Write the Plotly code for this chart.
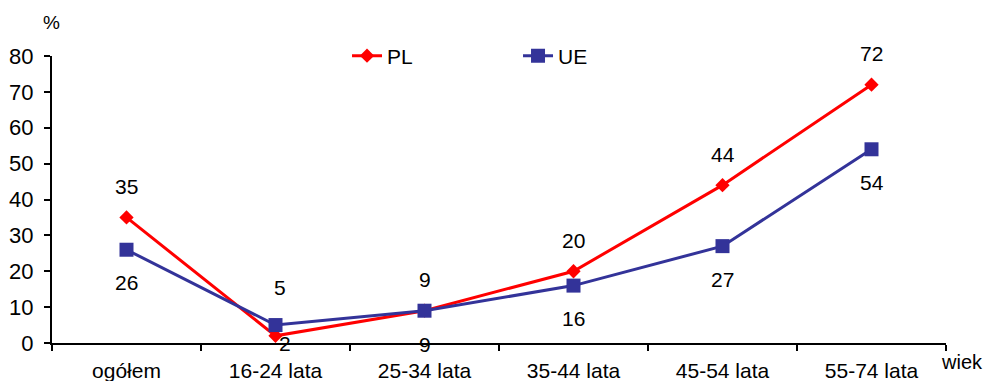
import plotly.graph_objects as go

# Age groups and shares (%) for Poland and the EU
categories = ["ogółem", "16-24 lata", "25-34 lata", "35-44 lata", "45-54 lata", "55-74 lata"]
pl_values = [35, 2, 9, 20, 44, 72]
ue_values = [26, 5, 9, 16, 27, 54]
y_ticks = [0, 10, 20, 30, 40, 50, 60, 70, 80]

# Pixel offsets of the value labels relative to their points
pl_label_dy = [31, -8, 31, 31, 31, 31]
pl_label_dx = [0, 9, 0, 0, 0, 0]
ue_label_dy = [-33, 38, -34, -33, -33, -33]
ue_label_dx = [0, 4, 0, 0, 0, 0]

RED = "#FF0000"
BLUE = "#333399"
FONT = "Liberation Sans, Arial, sans-serif"
LABEL_FONT = dict(size=21, color="black", family=FONT)

fig = go.Figure()
fig.add_trace(go.Scatter(
    x=categories, y=pl_values, name="PL", mode="lines+markers",
    line=dict(color=RED, width=3),
    marker=dict(symbol="diamond", size=11, color=RED),
))
fig.add_trace(go.Scatter(
    x=categories, y=ue_values, name="UE", mode="lines+markers",
    line=dict(color=BLUE, width=3),
    marker=dict(symbol="square", size=14, color=BLUE),
))

annotations = []
for cat, v, dy, dx in zip(categories, pl_values, pl_label_dy, pl_label_dx):
    annotations.append(dict(x=cat, y=v, text=str(v), showarrow=False,
                            yshift=dy, xshift=dx, font=LABEL_FONT))
for cat, v, dy, dx in zip(categories, ue_values, ue_label_dy, ue_label_dx):
    annotations.append(dict(x=cat, y=v, text=str(v), showarrow=False,
                            yshift=dy, xshift=dx, font=LABEL_FONT))

# Axis titles placed at the axis ends
annotations.append(dict(xref="paper", yref="paper", x=0, y=1, xanchor="center", yanchor="middle",
                        xshift=-1, yshift=34, text="%", showarrow=False,
                        font=dict(size=19, color="black", family=FONT)))
annotations.append(dict(xref="paper", yref="paper", x=1, y=0, xanchor="left", yanchor="middle",
                        xshift=-7, yshift=-19, text="wiek", showarrow=False,
                        font=dict(size=20, color="black", family=FONT)))

fig.update_layout(
    width=987, height=381,
    margin=dict(l=52, r=41, t=56, b=38, autoexpand=False),
    paper_bgcolor="white", plot_bgcolor="white",
    font=dict(family=FONT, color="black"),
    showlegend=True,
    legend=dict(orientation="h", x=0.33, y=1.0, xanchor="left", yanchor="middle",
                font=dict(size=21, color="black", family=FONT),
                bgcolor="rgba(0,0,0,0)", entrywidth=126, entrywidthmode="pixels"),
    annotations=annotations,
)
fig.update_xaxes(
    type="category", range=[-0.5, 5.5], automargin=False,
    showline=True, linecolor="black", linewidth=2,
    ticks="outside", tickson="boundaries", ticklen=6, tickwidth=2, tickcolor="black",
    ticklabelstandoff=8,
    showgrid=False, zeroline=False,
    tickfont=dict(size=21, color="black", family=FONT),
)
fig.update_yaxes(
    range=[0, 80], tickvals=y_ticks, automargin=False,
    showline=True, linecolor="black", linewidth=2,
    ticks="outside", ticklen=6, tickwidth=2, tickcolor="black",
    ticklabelstandoff=6,
    showgrid=False, zeroline=False,
    tickfont=dict(size=22, color="black", family=FONT),
)

fig.write_html("out.html")
